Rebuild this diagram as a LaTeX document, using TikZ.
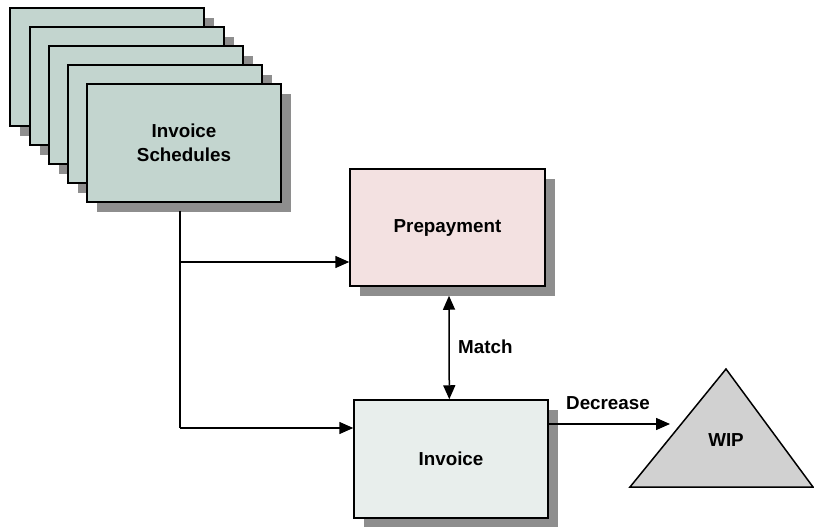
\documentclass[tikz,border=0pt]{standalone}
\usepackage{fontspec}
\setmainfont{Liberation Sans}
\usetikzlibrary{arrows.meta,shadows}
\definecolor{schedfill}{HTML}{C3D5CF}
\definecolor{prepfill}{HTML}{F3E1E1}
\definecolor{invfill}{HTML}{E8EEEC}
\definecolor{wipfill}{HTML}{D1D1D1}
\definecolor{shadowgray}{HTML}{8E8E8E}
\begin{document}
\begin{tikzpicture}[x=1pt,y=-1pt,
  box/.style={draw=black, line width=1.5pt, minimum width=194pt, minimum height=118pt, inner sep=0pt,
    align=center, font=\bfseries\fontsize{18.8}{23.5}\selectfont,
    drop shadow={shadow xshift=10pt, shadow yshift=-10pt, fill=shadowgray, opacity=1}},
  lbl/.style={font=\bfseries\fontsize{18.8}{23}\selectfont, inner sep=0pt},
  conn/.style={line width=1.5pt},
  arr/.style={line width=1.5pt, -{Triangle[length=14pt,width=12pt]}},
  dbl/.style={line width=1.5pt, {Triangle[length=14pt,width=12pt]}-{Triangle[length=14pt,width=12pt]}}]
\useasboundingbox (0,0) rectangle (814,527);
% stacked schedules
\node[box, fill=schedfill] (s1) at (107,67) {};
\node[box, fill=schedfill] (s2) at (127,86) {};
\node[box, fill=schedfill] (s3) at (146,105) {};
\node[box, fill=schedfill] (s4) at (165,124) {};
\node[box, fill=schedfill] (s5) at (184,143) {Invoice\\Schedules};
% prepayment and invoice
\node[box, fill=prepfill, minimum width=195pt, minimum height=117pt] (prep) at (447.5,227.5) {Prepayment};
\node[box, fill=invfill] (inv) at (451,459) {Invoice};
% WIP triangle
\draw[line width=1.5pt, fill=wipfill] (726,369) -- (813,487) -- (630,487) -- cycle;
\node[lbl] (wip) at (726,440) {WIP};
\coordinate (wipin) at (670,424);
% connectors
\draw[conn] ([xshift=-4pt,yshift=-8pt]s5.south) -- ([xshift=-4pt,yshift=31pt]s5.south |- inv.west);
\draw[arr] ([xshift=-4pt]s5.south |- 0,262) -- (prep.west |- 0,262);
\draw[arr] ([xshift=-4pt]s5.south |- 0,428) -- (inv.west |- 0,428);
\draw[dbl] ([xshift=1.5pt,yshift=-9pt]prep.south) -- ([xshift=-1.7pt]inv.north);
\node[lbl, anchor=west] (match) at (458,347) {Match};
\draw[arr] (inv.east |- wipin) -- (wipin);
\node[lbl] (dec) at (608,403) {Decrease};
\end{tikzpicture}
\end{document}
